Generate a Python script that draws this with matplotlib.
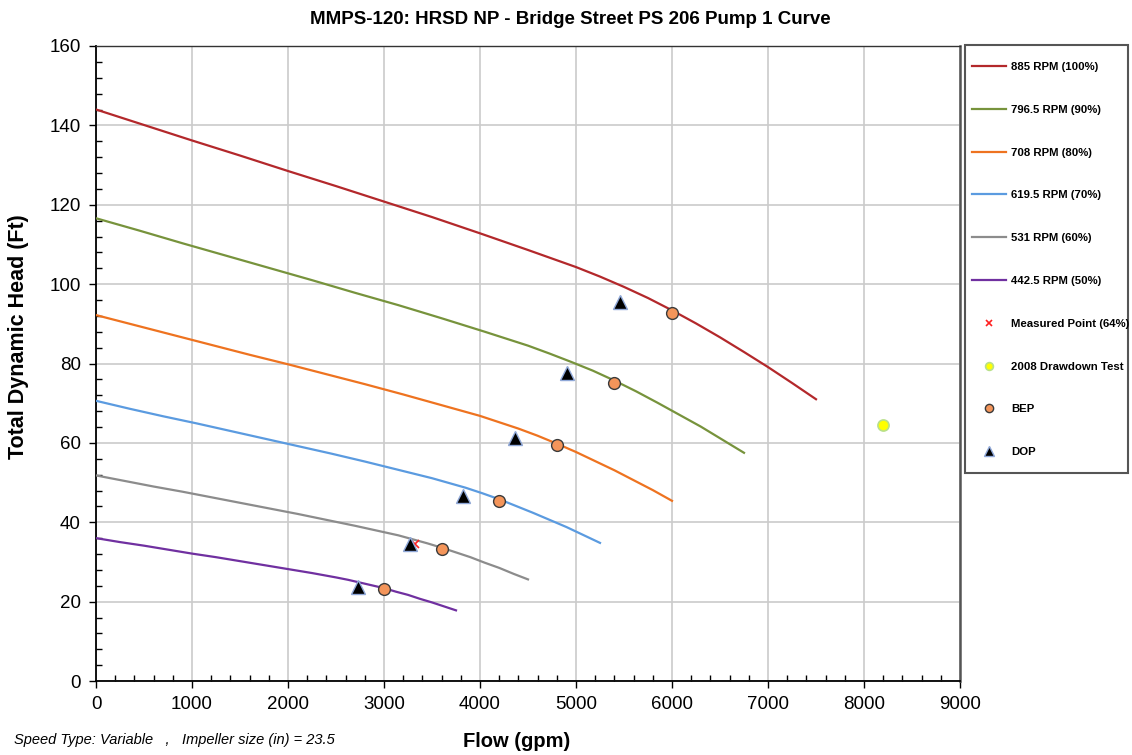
import matplotlib.pyplot as plt
from matplotlib.patches import Rectangle
from matplotlib.ticker import MultipleLocator

plt.rcParams['font.family'] = ['Liberation Sans', 'DejaVu Sans']

# pump curves (flow gpm, head ft)
q_100 = [0, 500, 1000, 1500, 2000, 2500, 3000, 3500, 4000, 4500, 5000,
         5250, 5500, 5750, 6000, 6250, 6500, 6750, 7000, 7250, 7500]
h_100 = [144.0, 140.1, 136.2, 132.4, 128.5, 124.7, 120.8, 116.9, 112.8, 108.6, 104.3,
         101.9, 99.3, 96.5, 93.4, 90.1, 86.6, 82.9, 79.1, 75.1, 71.0]
q_90 = [0, 450, 900, 1350, 1800, 2250, 2700, 3150, 3600, 4050, 4500,
        4725, 4950, 5175, 5400, 5625, 5850, 6075, 6300, 6525, 6750]
h_90 = [116.6, 113.5, 110.3, 107.2, 104.1, 101.0, 97.8, 94.7, 91.4, 88.0, 84.5,
        82.5, 80.4, 78.2, 75.7, 73.0, 70.1, 67.1, 64.1, 60.8, 57.5]
q_80 = [0, 400, 800, 1200, 1600, 2000, 2400, 2800, 3200, 3600, 4000,
        4200, 4400, 4600, 4800, 5000, 5200, 5400, 5600, 5800, 6000]
h_80 = [92.2, 89.7, 87.2, 84.7, 82.2, 79.8, 77.3, 74.8, 72.2, 69.5, 66.8,
        65.2, 63.6, 61.8, 59.8, 57.7, 55.4, 53.1, 50.6, 48.1, 45.4]
q_70 = [0, 350, 700, 1050, 1400, 1750, 2100, 2450, 2800, 3150, 3500,
        3675, 3850, 4025, 4200, 4375, 4550, 4725, 4900, 5075, 5250]
h_70 = [70.6, 68.6, 66.7, 64.9, 63.0, 61.1, 59.2, 57.3, 55.3, 53.2, 51.1,
        49.9, 48.7, 47.3, 45.8, 44.1, 42.4, 40.6, 38.8, 36.8, 34.8]
q_60 = [0, 300, 600, 900, 1200, 1500, 1800, 2100, 2400, 2700, 3000,
        3150, 3300, 3450, 3600, 3750, 3900, 4050, 4200, 4350, 4500]
h_60 = [51.8, 50.4, 49.0, 47.7, 46.3, 44.9, 43.5, 42.1, 40.6, 39.1, 37.5,
        36.7, 35.7, 34.7, 33.6, 32.4, 31.2, 29.8, 28.5, 27.0, 25.6]
q_50 = [0, 250, 500, 750, 1000, 1250, 1500, 1750, 2000, 2250, 2500,
        2625, 2750, 2875, 3000, 3125, 3250, 3375, 3500, 3625, 3750]
h_50 = [36.0, 35.0, 34.1, 33.1, 32.1, 31.2, 30.2, 29.2, 28.2, 27.2, 26.1,
        25.5, 24.8, 24.1, 23.4, 22.5, 21.7, 20.7, 19.8, 18.8, 17.8]

curve_labels = ['885 RPM (100%)', '796.5 RPM (90%)', '708 RPM (80%)',
                '619.5 RPM (70%)', '531 RPM (60%)', '442.5 RPM (50%)']
curve_colors = ['#B3282B', '#77933C', '#EE7320', '#5B9BE0', '#8C8C8C', '#7030A0']

bep_q = [6000, 5400, 4800, 4200, 3600, 3000]
bep_h = [92.8, 75.2, 59.4, 45.3, 33.3, 23.1]
dop_q = [5460, 4910, 4360, 3820, 3270, 2730]
dop_h = [95.5, 77.6, 61.3, 46.7, 34.4, 23.8]
meas_q = [3320]
meas_h = [34.4]
draw_q = [8200]
draw_h = [64.5]

fig = plt.figure(figsize=(11.32, 7.55), dpi=100)
ax = fig.add_axes([96 / 1132, 74 / 755, 864 / 1132, 635 / 755])

curves = [(q_100, h_100), (q_90, h_90), (q_80, h_80),
          (q_70, h_70), (q_60, h_60), (q_50, h_50)]
handles = []
for (q, h), lab, col in zip(curves, curve_labels, curve_colors):
    ln, = ax.plot(q, h, color=col, lw=1.6, label=lab, zorder=3)
    handles.append(ln)

hm, = ax.plot(meas_q, meas_h, 'x', color='#FF2020', ms=6, mew=1.2,
              label='Measured Point (64%)', zorder=4)
hd, = ax.plot(draw_q, draw_h, 'o', color='#FFFF00', mec='#B8E08A', ms=8,
              mew=1.2, label='2008 Drawdown Test', zorder=4)
hb, = ax.plot(bep_q, bep_h, 'o', color='#F4955A', mec='#3A3A3A', ms=8.5,
              mew=1.0, label='BEP', zorder=5, ls='none')
ht, = ax.plot(dop_q, dop_h, '^', color='#000000', mec='#8FA8D8', ms=10,
              mew=1.0, label='DOP', zorder=5, ls='none')
handles += [hm, hd, hb, ht]

ax.set_xlim(0, 9000)
ax.set_ylim(0, 160)
ax.xaxis.set_major_locator(MultipleLocator(1000))
ax.xaxis.set_minor_locator(MultipleLocator(200))
ax.yaxis.set_major_locator(MultipleLocator(20))
ax.yaxis.set_minor_locator(MultipleLocator(4))
ax.tick_params(which='major', direction='out', length=5, width=1, labelsize=13.5, pad=6)
ax.tick_params(which='minor', direction='in', length=4, width=1)
ax.grid(True, which='major', color='#CBCBCB', lw=1.2)
ax.set_axisbelow(True)
for s in ['left', 'bottom']:
    ax.spines[s].set_linewidth(1.3)
    ax.spines[s].set_color('black')
ax.spines['top'].set_linewidth(1.0)
ax.spines['top'].set_color('#333333')
ax.spines['right'].set_linewidth(1.8)
ax.spines['right'].set_color('#555555')

ax.set_xlabel('Flow (gpm)', fontsize=14.5, fontweight='bold')
ax.set_ylabel('Total Dynamic Head (Ft)', fontsize=15.5, fontweight='bold')
ax.xaxis.set_label_coords(0.487, -0.081)
ax.yaxis.set_label_coords(-0.0775, 0.543)
fig.text(570 / 1132, 1 - 20 / 755, 'MMPS-120: HRSD NP - Bridge Street PS 206 Pump 1 Curve',
         ha='center', va='center', fontsize=13.5, fontweight='bold')
fig.text(14 / 1132, 1 - 740 / 755,
         'Speed Type: Variable   ,   Impeller size (in) = 23.5',
         ha='left', va='center', fontsize=10.5, style='italic')

# legend box drawn separately so the entries can sit close to its left edge
fig.patches.append(Rectangle((965 / 1132, 1 - 473 / 755), 163 / 1132, 428 / 755,
                             transform=fig.transFigure, fill=False,
                             ec='#555555', lw=1.5))
leg = fig.legend(handles, [h.get_label() for h in handles],
                 loc='upper left', bbox_to_anchor=(972 / 1132, 1 - 62 / 755),
                 frameon=False, borderpad=0, borderaxespad=0,
                 prop={'size': 8.2, 'weight': 'bold'},
                 labelspacing=2.88, handlelength=3.0, handletextpad=0.42,
                 numpoints=1, markerscale=0.7)

fig.savefig('out.png', dpi=100)
